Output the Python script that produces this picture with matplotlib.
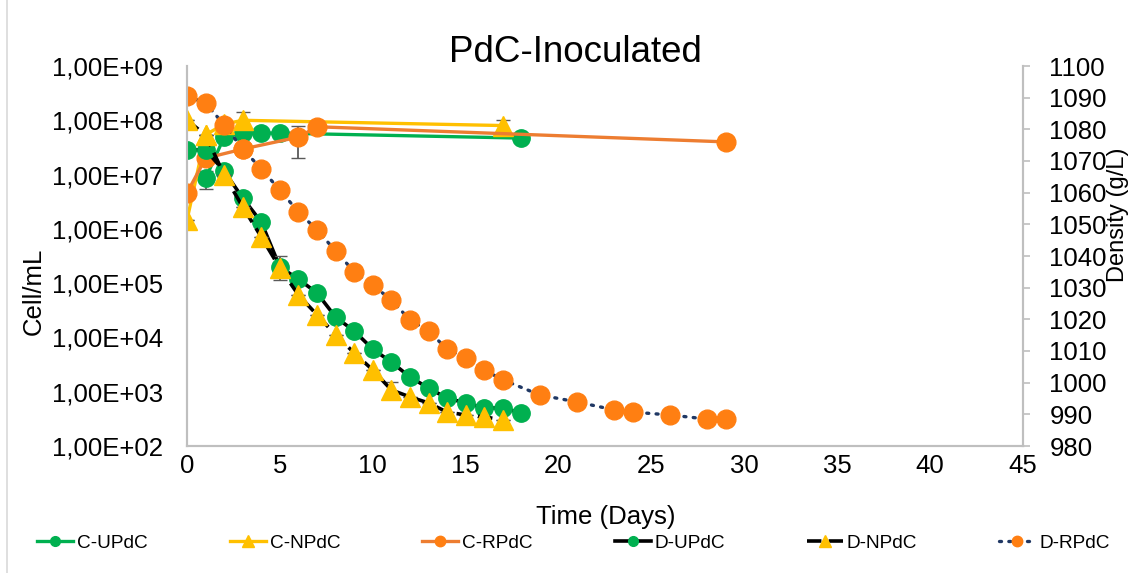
import matplotlib.pyplot as plt
from matplotlib.lines import Line2D
from matplotlib.ticker import FuncFormatter, NullLocator

plt.rcParams['font.family'] = ['Liberation Sans', 'DejaVu Sans']

# cell counts (Cell/mL, left axis)
cu_days = [1, 2, 3, 4, 5, 18]
cu_vals = [8.5e6, 4.9e7, 5.8e7, 5.8e7, 5.8e7, 4.7e7]
cu_err = [3e6, 0, 0, 0, 0, 0]

cn_days = [0, 1, 2, 3, 17]
cn_vals = [1.45e6, 5.4e7, 8.5e7, 1.0e8, 8.0e7]
cn_err = [0, 0, 0, 4e7, 2e7]

cr_days = [0, 1, 3, 6, 7, 29]
cr_vals = [4.6e6, 2.0e7, 2.95e7, 4.9e7, 7.6e7, 4.0e7]
cr_err = [0, 0, 0, 2.9e7, 0, 0]

# density (g/L, right axis)
du_days = list(range(0, 19))
du_vals = [1073.5, 1073.5, 1066.8, 1058.3, 1050.7, 1036.5, 1032.7, 1028.3, 1020.7,
           1016.3, 1010.6, 1006.5, 1001.8, 998.3, 995.1, 993.6, 992.0, 992.0, 990.4]

dn_days = list(range(0, 18))
dn_vals = [1082.9, 1078.2, 1065.6, 1055.5, 1046.0, 1036.2, 1027.7, 1021.4, 1015.1,
           1009.4, 1004.0, 997.7, 995.5, 993.6, 990.7, 989.8, 989.2, 988.2]
dn_err = [0, 0, 0, 0, 0, 3.7, 0, 0, 0, 0, 0, 2.5, 0, 0, 0, 0, 0, 0]

dr_days = list(range(0, 18)) + [19, 21, 23, 24, 26, 28, 29]
dr_vals = [1090.5, 1088.3, 1081.4, 1073.8, 1067.5, 1060.8, 1053.9, 1048.2, 1041.6,
           1035.0, 1030.8, 1026.1, 1019.8, 1016.3, 1010.6, 1007.8, 1004.0, 1000.9,
           996.1, 993.9, 991.4, 990.7, 989.8, 988.5, 988.5]

green = '#00B050'
yellow = '#FFC000'
orange_line = '#ED7D31'
orange = '#FF7F12'
navy = '#203864'
errc = '#595959'
dash = (0, (4, 2))
dots = (0, (0.6, 2.2))

fig = plt.figure(figsize=(11.36, 5.73), dpi=100)
ax1 = fig.add_axes([187 / 1136, 1 - 446 / 573, (1023 - 187) / 1136, (446 - 66) / 573])
ax2 = ax1.twinx()

ax1.errorbar(cu_days, cu_vals, yerr=cu_err, color=green, lw=2.4, marker='o', ms=12.5,
             mec=green, mfc=green, ecolor=errc, elinewidth=1.3, capsize=5)
ax1.errorbar(cn_days, cn_vals, yerr=cn_err, color=yellow, lw=2.4, marker='^', ms=14,
             mec=yellow, mfc=yellow, ecolor=errc, elinewidth=1.3, capsize=5)
ax1.errorbar(cr_days, cr_vals, yerr=cr_err, color=orange_line, lw=2.4, marker='o', ms=13.5,
             mec=orange, mfc=orange, ecolor=errc, elinewidth=1.3, capsize=5)

ax2.plot(du_days, du_vals, color='black', lw=2.6, marker='o', ms=12.5, mec=green, mfc=green)
ax2.errorbar(dn_days, dn_vals, yerr=dn_err, color='black', lw=2.6, ls=dash, marker='^', ms=14,
             mec=yellow, mfc=yellow, ecolor=errc, elinewidth=1.3, capsize=5)
ax2.plot(dr_days, dr_vals, color=navy, lw=2.4, ls=dots, dash_capstyle='round',
         marker='o', ms=13.5, mec=orange, mfc=orange)

ax1.set_yscale('log')
ax1.set_ylim(1e2, 1e9)
ax1.set_yticks([10.0 ** k for k in range(2, 10)])
ax1.yaxis.set_minor_locator(NullLocator())
ax1.yaxis.set_major_formatter(FuncFormatter(lambda v, p: f'{v:.2E}'.replace('.', ',')))
ax1.set_xlim(0, 45)
ax1.set_xticks(range(0, 46, 5))

ax2.set_ylim(980, 1100)
ax2.set_yticks(range(980, 1101, 10))

for ax in (ax1, ax2):
    for s in ax.spines.values():
        s.set_color('#BFBFBF')
        s.set_linewidth(1.5)
    ax.spines['top'].set_visible(False)
    ax.tick_params(labelsize=18.5, colors='black', width=1.2)
ax1.tick_params(axis='y', length=0, pad=17)
ax1.tick_params(axis='x', length=0, pad=6)
ax2.tick_params(axis='y', length=5, color='#BFBFBF', labelcolor='black', pad=14)

fig.text(575 / 1136, 1 - 52 / 573, 'PdC-Inoculated', fontsize=26.5, ha='center', va='center')
fig.text(606 / 1136, 1 - 517 / 573, 'Time (Days)', fontsize=18.5, ha='center', va='center')
fig.text(34 / 1136, 1 - 291 / 573, 'Cell/mL', fontsize=18.5, rotation=90, ha='center', va='center')
fig.text(1118 / 1136, 1 - 215 / 573, 'Density (g/L)', fontsize=17, rotation=90, ha='center', va='center')

# chart area border on the left
fig.add_artist(Line2D([7 / 1136, 7 / 1136], [0, 1], color='#D9D9D9', lw=1.2))

handles = [
    Line2D([], [], color=green, lw=2.4, marker='o', ms=7, mec=green, mfc=green),
    Line2D([], [], color=yellow, lw=2.4, marker='^', ms=8, mec=yellow, mfc=yellow),
    Line2D([], [], color=orange_line, lw=2.4, marker='o', ms=7.5, mec=orange, mfc=orange),
    Line2D([], [], color='black', lw=2.6, marker='o', ms=7, mec=green, mfc=green),
    Line2D([], [], color='black', lw=2.6, ls=dash, marker='^', ms=8, mec=yellow, mfc=yellow),
    Line2D([], [], color=navy, lw=2.4, ls=dots, dash_capstyle='round', marker='o', ms=7.5,
           mec=orange, mfc=orange),
]
labels = ['C-UPdC', 'C-NPdC', 'C-RPdC', 'D-UPdC', 'D-NPdC', 'D-RPdC']
fig.legend(handles, labels, loc='center', bbox_to_anchor=(573.5 / 1136, 1 - 543 / 573), ncol=6,
           frameon=False, fontsize=13.7, handlelength=1.9, handletextpad=0.2, columnspacing=4.3)

fig.savefig('out.png', dpi=100)
